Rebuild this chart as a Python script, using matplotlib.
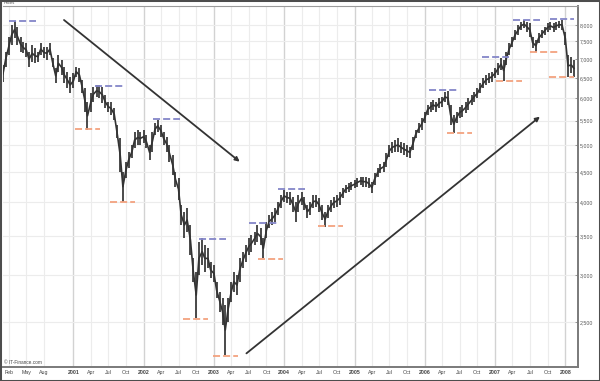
import matplotlib
matplotlib.use("Agg")
import matplotlib.pyplot as plt
from matplotlib.patches import Rectangle
import numpy as np
import pandas as pd

plt.rcParams['font.family'] = ['Liberation Sans', 'DejaVu Sans']

# ---------------- data (DAX, semi-monthly high / low) ----------------
dates = pd.date_range("2000-01-01", periods=196, freq="SMS")

high = [
    6840, 7207, 7643, 8000, 8126, 7948, 7643, 7495, 7446, 7207,
    7398, 7302, 7207, 7446, 7350, 7350, 7446, 7021, 6751, 7113,
    6975, 6796, 6664, 6535, 6620, 6796, 6751, 6450, 6243, 5925,
    6122, 6284, 6325, 6325, 6284, 6082, 5925, 5925, 5772, 5407,
    5132, 4504, 4684, 4871, 5000, 5268, 5302, 5268, 5302, 5200,
    5000, 5268, 5443, 5515, 5407, 5268, 5166, 5000, 4808, 4504,
    4388, 3953, 3851, 3902, 3655, 3208, 3044, 3424, 3469, 3379,
    3335, 3166, 3125, 2927, 2815, 2742, 2672, 2742, 2927, 3044,
    3005, 3208, 3292, 3379, 3469, 3514, 3560, 3655, 3607, 3469,
    3703, 3801, 3851, 3902, 4005, 4110,
    4192, 4165, 4165, 4084, 4005, 4110, 4165, 4084, 3953, 4005,
    4110, 4110, 4057, 3953, 3851, 3953, 4031, 4084, 4110, 4165,
    4219, 4275, 4303, 4331, 4360, 4388, 4417, 4417, 4417, 4388,
    4331, 4475, 4564, 4635, 4684, 4839, 5000, 5066, 5099, 5132,
    5066, 5033, 5000, 4967, 5166, 5302, 5443, 5551, 5698, 5848,
    5925, 5964, 5925, 6003, 6042, 6146, 6178, 5848, 5624, 5698,
    5810, 5848, 5925, 6003, 6082, 6162, 6243, 6366, 6492, 6577,
    6620, 6664, 6751, 6885, 7021, 6975, 7207, 7446, 7643, 7845,
    8000, 8105, 8158, 8105, 8052, 7643, 7544, 7743, 7845, 7948,
    8052, 8105, 8052, 8105, 8126, 8158, 7794, 7113, 7067, 6975,
]

low = [
    6391, 6796, 7113, 7398, 7593, 7398, 7207, 7160, 7067, 6796,
    6930, 6885, 6930, 7113, 7021, 6975, 7113, 6796, 6366, 6664,
    6577, 6366, 6243, 6122, 6243, 6535, 6408, 6122, 5698, 5302,
    5698, 5925, 6042, 6003, 5886, 5772, 5698, 5624, 5515, 5132,
    4504, 4005, 4388, 4564, 4746, 4935, 5000, 5000, 5033, 4935,
    4715, 4871, 5200, 5268, 5166, 5000, 4871, 4684, 4446, 4247,
    4031, 3655, 3469, 3560, 3250, 2927, 2536, 3005, 3125, 3044,
    3084, 2966, 2927, 2742, 2603, 2471, 2197, 2503, 2707, 2815,
    2778, 2927, 3084, 3166, 3250, 3292, 3379, 3424, 3379, 3208,
    3469, 3607, 3655, 3703, 3801, 3902,
    4005, 3979, 3953, 3851, 3703, 3851, 3953, 3876, 3752, 3801,
    3902, 3927, 3851, 3727, 3631, 3752, 3851, 3902, 3927, 3953,
    4057, 4137, 4165, 4192, 4219, 4247, 4275, 4247, 4247, 4219,
    4137, 4275, 4417, 4475, 4504, 4593, 4777, 4839, 4871, 4871,
    4839, 4808, 4777, 4746, 4903, 5132, 5234, 5302, 5443, 5624,
    5698, 5735, 5698, 5772, 5810, 5925, 5848, 5407, 5234, 5443,
    5551, 5587, 5661, 5735, 5848, 5925, 6003, 6122, 6243, 6325,
    6366, 6408, 6492, 6577, 6707, 6425, 6840, 7113, 7350, 7544,
    7693, 7845, 7896, 7794, 7643, 7302, 7207, 7446, 7593, 7693,
    7794, 7845, 7794, 7845, 7896, 7845, 7398, 6535, 6620, 6535,
]

# resistance (blue) and support (orange) levels
res_start = ["2000-02-03", "2001-04-22", "2002-02-19", "2002-10-16", "2003-07-01",
             "2003-11-28", "2006-01-22", "2006-10-25", "2007-04-04", "2007-10-16"]
res_end = ["2000-06-19", "2001-09-16", "2002-07-07", "2003-03-04", "2003-11-25",
           "2004-04-19", "2006-06-16", "2007-03-13", "2007-08-22", "2008-02-16"]
res_price = [8130, 6310, 5530, 3455, 3688, 4202, 6194, 7057, 8169, 8190]

sup_start = ["2001-01-10", "2001-07-10", "2002-07-22", "2002-12-25", "2003-08-16",
             "2004-06-25", "2006-04-25", "2007-01-07", "2007-07-01", "2007-10-07"]
sup_end = ["2001-05-19", "2001-11-16", "2002-12-01", "2003-05-04", "2003-12-25",
           "2004-11-01", "2006-09-04", "2007-05-19", "2007-11-22", "2008-02-16"]
sup_price = [5330, 4005, 2526, 2190, 3199, 3636, 5234, 6425, 7188, 6525]

# trend lines
down_dates = ["2000-11-13", "2003-05-15"]
down_price = [8158, 4684]
up_dates = ["2003-06-19", "2007-08-22"]
up_price = [2211, 5587]

# axis ticks
x_tick_dates = ["2000-02-01", "2000-05-01", "2000-08-01"]
x_tick_labels = ["Feb", "May", "Aug"]
for yr in range(2001, 2009):
    x_tick_dates.append(f"{yr}-01-01"); x_tick_labels.append(str(yr))
    if yr < 2008:
        for mo, nm in [(4, "Apr"), (7, "Jul"), (10, "Oct")]:
            x_tick_dates.append(f"{yr}-{mo:02d}-01"); x_tick_labels.append(nm)
y_ticks = [2500, 3000, 3500, 4000, 4500, 5000, 5500, 6000, 6500, 7000, 7500, 8000]
y_tick_labels = ["2,500", "3,000", "3,500", "4,000", "4,500", "5,000",
                 "5,500", "6,000", "6,500", "7,000", "7,500", "8,000"]

# ---------------- figure ----------------
W, H = 600, 381
fig = plt.figure(figsize=(W / 100, H / 100), dpi=100)
fig.patch.set_facecolor("white")
ax = fig.add_axes([3 / W, 1 - 367 / H, 575 / W, 361 / H])
ax.set_yscale("log")
ax.set_xlim(pd.Timestamp("2000-01-01"), pd.Timestamp("2008-03-07"))
ax.set_ylim(2096, 8618)

# grid
xt = pd.to_datetime(x_tick_dates)
for d, lab in zip(xt, x_tick_labels):
    isyear = lab.isdigit()
    ax.axvline(d, color="#d2d2d2" if isyear else "#ececec",
               lw=1.0 if isyear else 0.8, zorder=0)
for yv in y_ticks:
    ax.axhline(yv, color="#ececec", lw=0.8, zorder=0)

# price bars
hi = np.array(high); lo = np.array(low)
ax.vlines(dates, lo, hi, color="#333333", lw=1.25, zorder=3)
ax.plot(dates, np.sqrt(hi * lo), color="#333333", lw=1.2, zorder=3)

# levels
for s, e, p in zip(res_start, res_end, res_price):
    ax.plot(pd.to_datetime([s, e]), [p, p], color="#8486c8", lw=1.3,
            linestyle=(0, (3.9, 1.7)), zorder=4, solid_capstyle="butt")
for s, e, p in zip(sup_start, sup_end, sup_price):
    ax.plot(pd.to_datetime([s, e]), [p, p], color="#f3a27f", lw=1.3,
            linestyle=(0, (3.9, 1.7)), zorder=4, solid_capstyle="butt")

# trend lines
for dd, pp in [(down_dates, down_price), (up_dates, up_price)]:
    d0, d1 = pd.to_datetime(dd)
    ax.annotate("", xy=(d1, pp[1]), xytext=(d0, pp[0]),
                arrowprops=dict(arrowstyle="-|>,head_length=0.5,head_width=0.25",
                                mutation_scale=5, color="#333333", lw=1.3,
                                shrinkA=0, shrinkB=0),
                zorder=5)

# ticks
ax.set_xticks(xt)
ax.set_xticklabels(x_tick_labels)
for t, lab in zip(ax.get_xticklabels(), x_tick_labels):
    if lab.isdigit():
        t.set_fontweight("bold")
ax.tick_params(axis="x", length=0, pad=2, labelsize=3.8, labelcolor="#444444")
ax.yaxis.tick_right()
ax.set_yticks(y_ticks)
ax.set_yticklabels(y_tick_labels)
ax.yaxis.set_minor_locator(matplotlib.ticker.NullLocator())
ax.tick_params(axis="y", which="major", length=2, width=0.6, pad=1.5,
               labelsize=3.8, labelcolor="#555555", color="#888888", direction="in")

ax.spines["left"].set_visible(False)
ax.spines["right"].set_color("#7a7a7a"); ax.spines["right"].set_linewidth(1.4)
ax.spines["bottom"].set_color("#7a7a7a"); ax.spines["bottom"].set_linewidth(1.4)
ax.spines["top"].set_color("#9a9a9a"); ax.spines["top"].set_linewidth(0.8)

ax.text(0.002, 0.006, "\u00a9 IT-Finance.com", transform=ax.transAxes,
        fontsize=3.4, color="#444444", va="bottom", ha="left")
fig.text(4 / W, 1 - 3 / H, "Prices", fontsize=3, color="#555555", va="center", ha="left")

# outer frame
fig.patches.append(Rectangle((0, 0), 1, 1, transform=fig.transFigure, fill=False,
                             edgecolor="#4d4d4d", lw=2.2))

fig.savefig("out.png", dpi=100, facecolor="white")
